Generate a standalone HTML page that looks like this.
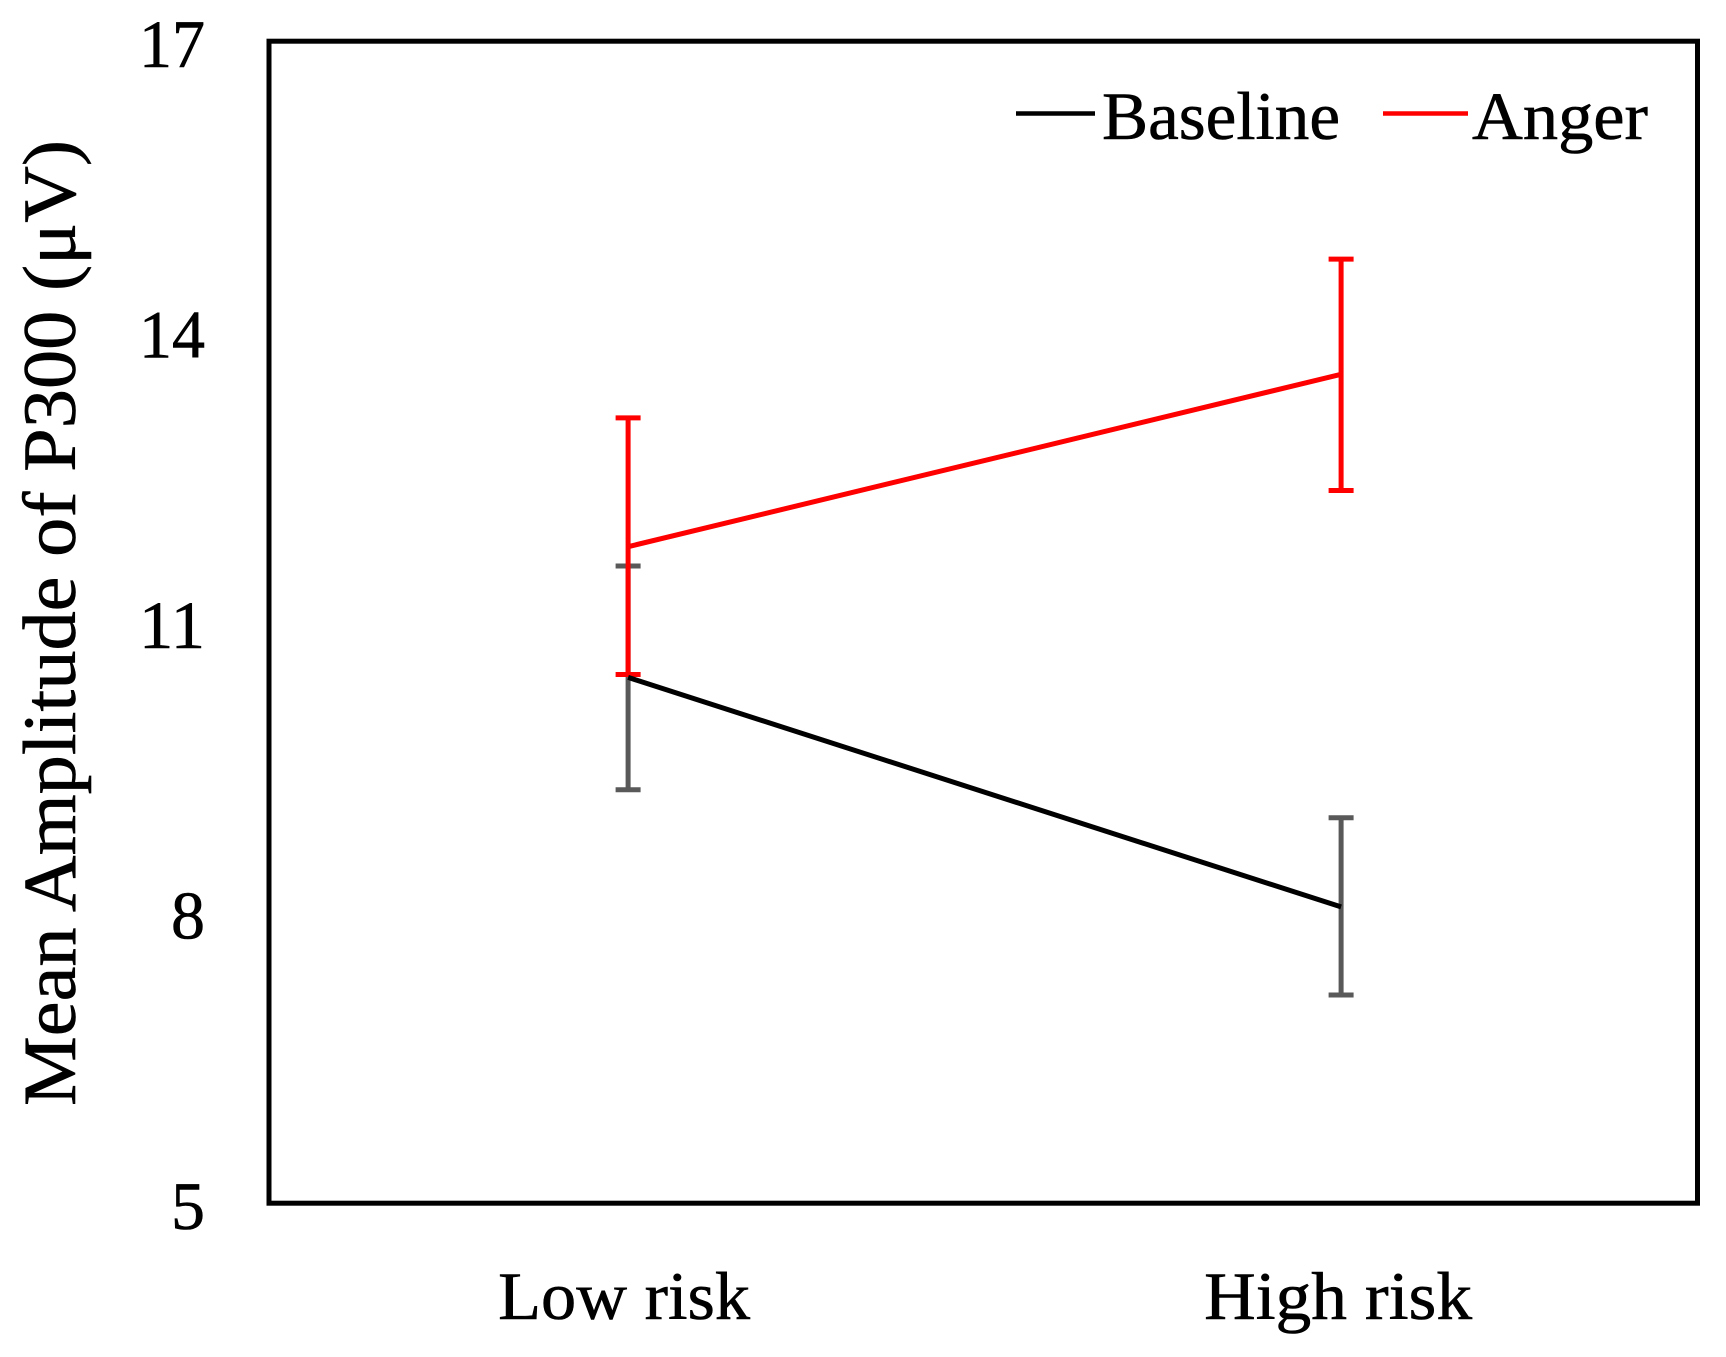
<!DOCTYPE html>
<html lang="en">
<head>
<meta charset="utf-8">
<title>Mean Amplitude of P300</title>
<style>
  html, body { margin: 0; padding: 0; background: #fff; }
  svg { display: block; }
  text { font-family: "Liberation Serif", serif; fill: #000; stroke: #000; stroke-width: 0.6px; }
</style>
</head>
<body>
<svg id="chart" xmlns="http://www.w3.org/2000/svg" width="1726" height="1357" viewBox="0 0 1726 1357">
  <rect x="0" y="0" width="1726" height="1357" fill="#fff"/>
  <rect x="269" y="41.2" width="1428.5" height="1162" fill="none" stroke="#000" stroke-width="5"/>
  <text transform="translate(75 1106) rotate(-90)" font-size="75" textLength="966" lengthAdjust="spacingAndGlyphs">Mean Amplitude of P300 (μV)</text>
  <g id="y-ticks"></g>
  <g id="x-ticks"></g>
  <g id="series"></g>
  <g>
    <g>
      <line x1="1016" y1="113.5" x2="1095" y2="113.5" stroke="#000" stroke-width="4.5"/>
      <text x="1102" y="139" font-size="68" textLength="238" lengthAdjust="spacingAndGlyphs">Baseline</text>
    </g>
    <g>
      <line x1="1383" y1="113.5" x2="1468" y2="113.5" stroke="#f00" stroke-width="4.5"/>
      <text x="1472" y="139" font-size="68" textLength="176" lengthAdjust="spacingAndGlyphs">Anger</text>
    </g>
  </g>
</svg>
<script>
const categories = ['Low risk', 'High risk'];
const yTickValues = [17, 14, 11, 8, 5];
const baselineMeans = [10.43, 8.06];
const baselineUpper = [11.58, 8.98];
const baselineLower = [9.27, 7.15];
const angerMeans = [11.78, 13.56];
const angerUpper = [13.11, 14.75];
const angerLower = [10.46, 12.36];

const NS = 'http://www.w3.org/2000/svg';
const plotLeft = 268.6, plotWidth = 1430, plotTop = 41.2, plotHeight = 1162;
const yMin = 5, yMax = 17;
function xScale(i) { return plotLeft + plotWidth * (i + 0.5) / categories.length + (i === 0 ? 2 : 0); }
function yScale(v) { return plotTop + (yMax - v) / (yMax - yMin) * plotHeight; }

function makeLine(parent, x1, y1, x2, y2, color, width) {
  const el = document.createElementNS(NS, 'line');
  el.setAttribute('x1', x1);
  el.setAttribute('y1', y1);
  el.setAttribute('x2', x2);
  el.setAttribute('y2', y2);
  el.setAttribute('stroke', color);
  el.setAttribute('stroke-width', width);
  parent.appendChild(el);
  return el;
}

const yTicksGroup = document.getElementById('y-ticks');
yTickValues.forEach(function (v) {
  const label = String(v);
  const t = document.createElementNS(NS, 'text');
  
  
  t.setAttribute('x', 205);
  t.setAttribute('y', yScale(v) + 26);
  t.setAttribute('font-size', 68);
  t.setAttribute('text-anchor', 'end');
  if (label.length > 1) {
    t.setAttribute('textLength', 66);
    t.setAttribute('lengthAdjust', 'spacingAndGlyphs');
  }
  t.textContent = label;
  yTicksGroup.appendChild(t);
});

const xTicksGroup = document.getElementById('x-ticks');
const categoryWidths = [252, 268];
categories.forEach(function (c, i) {
  const t = document.createElementNS(NS, 'text');
  
  
  t.setAttribute('x', xScale(i) - (i === 0 ? 4 : 3));
  t.setAttribute('y', 1319);
  t.setAttribute('font-size', 68);
  t.setAttribute('text-anchor', 'middle');
  t.setAttribute('textLength', categoryWidths[i]);
  t.setAttribute('lengthAdjust', 'spacingAndGlyphs');
  t.textContent = c;
  xTicksGroup.appendChild(t);
});

const seriesGroup = document.getElementById('series');
function drawErrorBars(upper, lower, color, seriesId) {
  categories.forEach(function (c, i) {
    const x = xScale(i);
    const stem = makeLine(seriesGroup, x, yScale(upper[i]), x, yScale(lower[i]), color, 5);
    
    
    const capTop = makeLine(seriesGroup, x - 12.5, yScale(upper[i]), x + 12.5, yScale(upper[i]), color, 5);
    
    
    const capBottom = makeLine(seriesGroup, x - 12.5, yScale(lower[i]), x + 12.5, yScale(lower[i]), color, 5);
    
    
  });
}
function drawSeries(means, color, seriesId) {
  const line = document.createElementNS(NS, 'polyline');
  
  
  line.setAttribute('points', means.map(function (v, i) { return xScale(i) + ',' + yScale(v); }).join(' '));
  line.setAttribute('fill', 'none');
  line.setAttribute('stroke', color);
  line.setAttribute('stroke-width', 5);
  seriesGroup.appendChild(line);
}
drawErrorBars(baselineUpper, baselineLower, '#595959', 'baseline');
drawErrorBars(angerUpper, angerLower, '#f00', 'anger');
drawSeries(baselineMeans, '#000', 'baseline');
drawSeries(angerMeans, '#f00', 'anger');
</script>
</body>
</html>
